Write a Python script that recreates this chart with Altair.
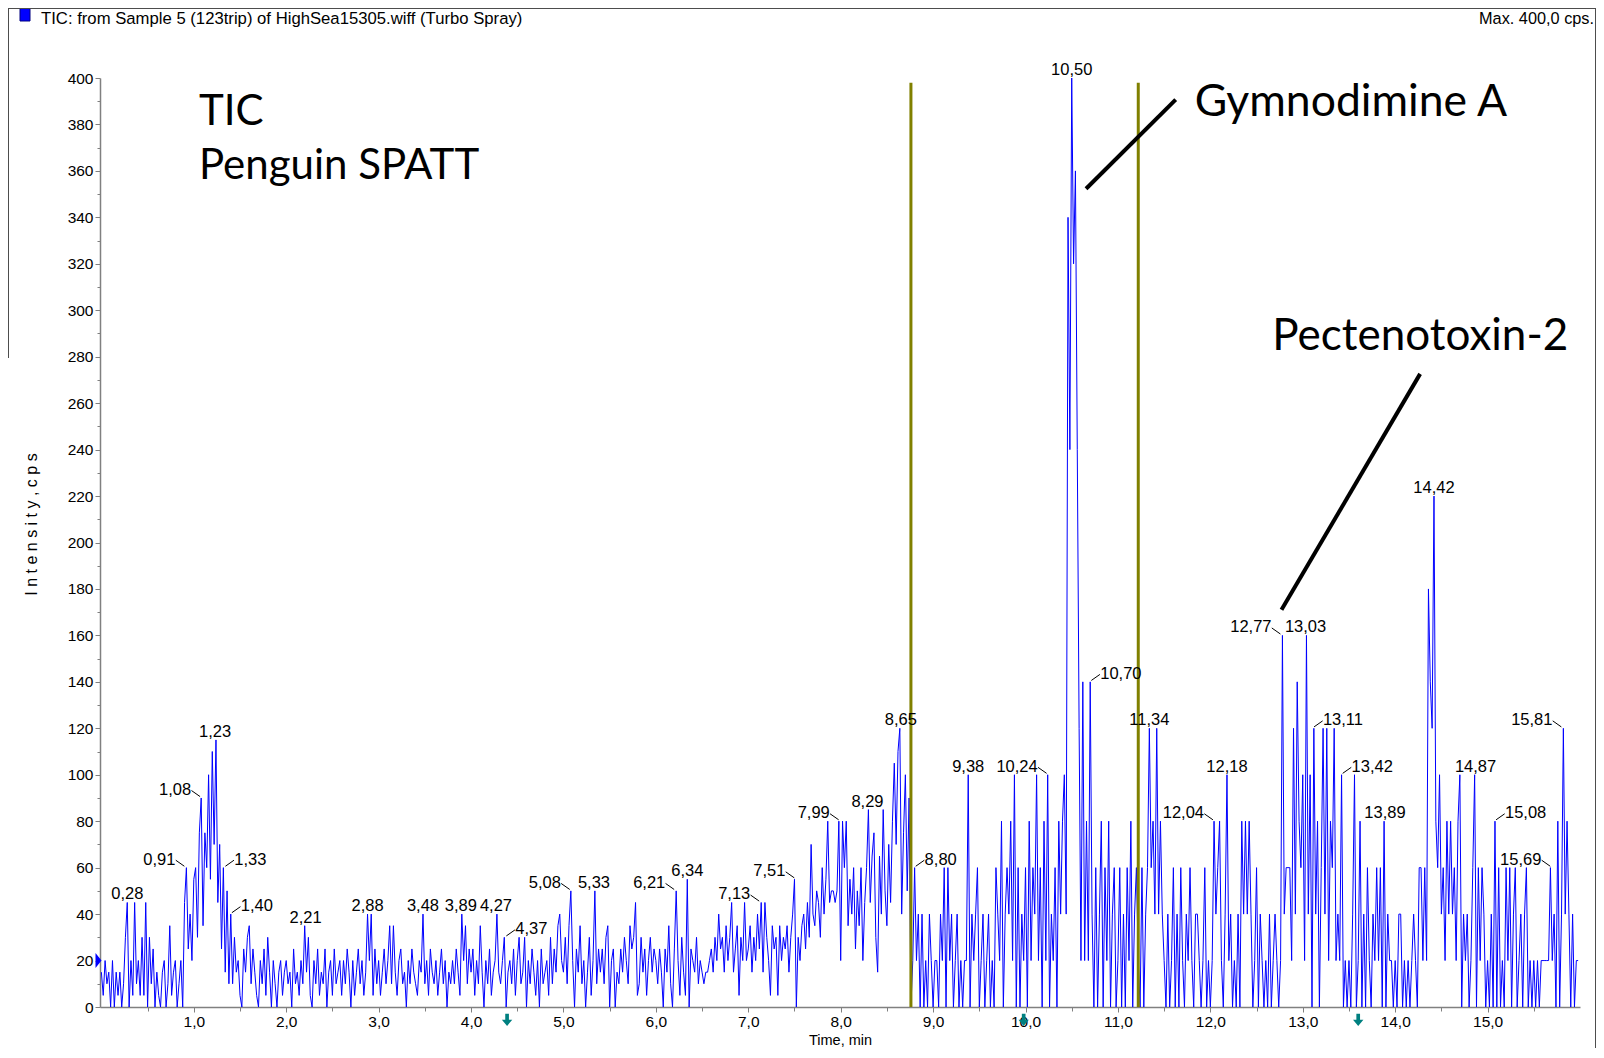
import altair as alt
import pandas as pd

SANS = "Liberation Sans"
BIG = "Lato"

# ---- TIC trace, one list per minute, sampled every 0.02 min ----
STEP = 0.02
min00 = [15, 5, 20, 10, 15, 0, 20, 0, 15, 5, 15, 0, 10, 30, 45, 0, 20, 5, 45, 10,
         20, 5, 30, 5, 45, 0, 30, 10, 25, 0, 15, 5, 0, 15, 20, 0, 10, 35, 5, 15,
         20, 0, 10, 20, 0, 45, 60, 25, 40, 20]
min01 = [55, 60, 30, 75, 90, 35, 75, 60, 100, 55, 110, 70, 115, 45, 70, 25, 60, 15, 50, 10,
         40, 10, 30, 15, 20, 5, 0, 25, 15, 30, 35, 10, 25, 15, 5, 0, 20, 10, 25, 5,
         30, 15, 0, 20, 10, 0, 15, 20, 5, 15]
min02 = [20, 10, 15, 0, 25, 10, 15, 5, 20, 10, 35, 15, 30, 5, 0, 20, 10, 25, 5, 15,
         10, 25, 0, 15, 20, 5, 25, 10, 15, 20, 5, 20, 10, 25, 15, 0, 20, 5, 15, 25,
         10, 20, 5, 15, 40, 20, 40, 5, 25, 10]
min03 = [20, 5, 15, 25, 10, 20, 35, 10, 35, 15, 5, 20, 25, 10, 15, 0, 20, 10, 25, 15,
         10, 5, 20, 15, 40, 10, 20, 5, 25, 15, 10, 20, 5, 15, 25, 10, 20, 0, 15, 10,
         20, 10, 25, 15, 5, 40, 20, 35, 10, 25]
min04 = [15, 25, 5, 20, 10, 35, 15, 0, 20, 10, 25, 5, 15, 20, 40, 15, 10, 20, 30, 0,
         15, 20, 10, 25, 5, 20, 30, 10, 15, 30, 0, 20, 10, 25, 15, 5, 20, 0, 25, 10,
         15, 20, 5, 30, 10, 25, 15, 35, 40, 20]
min05 = [15, 30, 10, 35, 50, 20, 0, 25, 15, 35, 10, 20, 0, 15, 30, 5, 20, 50, 10, 25,
         15, 25, 10, 30, 35, 0, 20, 25, 0, 15, 10, 25, 15, 30, 20, 10, 35, 25, 30, 45,
         5, 10, 30, 15, 25, 5, 20, 30, 15, 25]
min06 = [20, 10, 25, 15, 0, 25, 15, 35, 10, 0, 25, 50, 20, 5, 30, 15, 5, 55, 0, 25,
         20, 15, 30, 10, 20, 15, 10, 15, 15, 20, 25, 15, 30, 20, 40, 25, 30, 15, 35, 20,
         30, 45, 15, 25, 35, 5, 30, 20, 45, 20]
min07 = [25, 35, 15, 30, 20, 40, 25, 45, 15, 45, 30, 20, 5, 35, 25, 30, 5, 35, 20, 30,
         25, 35, 15, 30, 40, 55, 0, 30, 20, 35, 40, 25, 45, 30, 70, 40, 35, 50, 45, 30,
         60, 40, 55, 80, 45, 50, 50, 45, 50, 80]
min08 = [20, 80, 60, 80, 35, 55, 40, 60, 25, 50, 35, 60, 20, 45, 60, 85, 45, 65, 75, 30,
         15, 65, 40, 85, 50, 35, 70, 45, 80, 105, 70, 110, 120, 40, 75, 100, 50, 90, 0, 20,
         60, 20, 40, 0, 40, 0, 20, 0, 40, 20]
min09 = [0, 20, 20, 0, 40, 20, 60, 0, 60, 20, 40, 0, 20, 40, 0, 20, 0, 20, 20, 100,
         0, 40, 20, 40, 60, 0, 20, 40, 0, 20, 40, 0, 20, 0, 60, 40, 20, 80, 0, 40,
         60, 40, 80, 20, 100, 0, 60, 0, 40, 20]
min10 = [60, 0, 80, 20, 60, 40, 100, 20, 60, 0, 80, 20, 100, 0, 40, 20, 60, 0, 80, 40,
         80, 100, 40, 340, 240, 400, 320, 360, 240, 120, 20, 140, 20, 80, 20, 140, 40, 0, 60, 0,
         40, 80, 0, 60, 20, 80, 0, 40, 60, 0]
min11 = [20, 60, 0, 40, 0, 60, 20, 80, 0, 40, 60, 20, 0, 60, 0, 40, 60, 120, 60, 80,
         40, 120, 40, 80, 40, 20, 0, 40, 0, 20, 60, 0, 40, 0, 60, 20, 0, 40, 20, 60,
         20, 0, 40, 40, 20, 0, 20, 60, 0, 20]
min12 = [0, 20, 80, 40, 60, 80, 20, 0, 40, 100, 20, 40, 0, 20, 0, 40, 0, 80, 40, 80,
         40, 80, 40, 0, 20, 60, 0, 40, 20, 0, 20, 0, 40, 0, 20, 40, 20, 0, 20, 160,
         40, 60, 60, 60, 20, 120, 40, 140, 80, 60]
min13 = [100, 20, 160, 40, 100, 0, 120, 40, 80, 0, 60, 120, 40, 120, 20, 80, 60, 120, 20, 40,
         20, 100, 0, 20, 0, 20, 0, 40, 100, 0, 20, 80, 0, 40, 0, 60, 20, 0, 40, 20,
         60, 20, 60, 0, 80, 0, 40, 20, 20, 0]
min14 = [20, 0, 40, 40, 0, 20, 0, 20, 0, 20, 40, 20, 0, 60, 60, 20, 60, 20, 180, 140,
         120, 220, 80, 60, 100, 40, 60, 20, 80, 40, 80, 40, 60, 20, 80, 100, 0, 40, 20, 40,
         0, 20, 60, 100, 0, 60, 20, 60, 40, 0]
min15 = [20, 0, 40, 0, 80, 0, 60, 0, 20, 0, 60, 20, 60, 0, 40, 60, 0, 20, 40, 0,
         40, 60, 0, 20, 0, 20, 0, 20, 0, 20, 20, 20, 20, 20, 60, 20, 40, 0, 80, 0,
         40, 120, 40, 80, 40, 0, 40, 0, 20, 20]

# ---- peak labels ----
label_times = [0.28, 0.91, 1.08, 1.23, 1.33, 1.40, 2.21, 2.88, 3.48, 3.89, 4.27, 4.37,
               5.08, 5.33, 6.21, 6.34, 7.13, 7.51, 7.99, 8.29, 8.65, 8.80, 9.38, 10.24,
               10.50, 10.70, 11.34, 12.04, 12.18, 12.77, 13.03, 13.11, 13.42, 13.89,
               14.42, 14.87, 15.08, 15.69, 15.81]
label_peaks = [45, 60, 90, 115, 60, 40, 35, 40, 40, 40, 40, 30,
               50, 50, 50, 55, 45, 55, 80, 85, 120, 60, 100, 100,
               400, 140, 120, 80, 100, 160, 160, 120, 100, 80,
               220, 100, 80, 60, 120]
label_sides = ["c", "l", "l", "c", "r", "r", "c", "c", "c", "c", "c", "r",
               "l", "c", "l", "c", "l", "l", "l", "c", "c", "r", "c", "l",
               "c", "r", "c", "l", "c", "l", "c", "r", "r", "c",
               "c", "c", "r", "l", "l"]

# ---- annotations ----
marker_times = [8.76, 11.22]
big_texts = ["TIC", "Penguin SPATT", "Gymnodimine A", "Pectenotoxin-2"]
big_sizes = [42, 42, 44.5, 44]
big_t = [1.056, 1.056, 11.83, 12.67]
big_v = [379.9, 356.3, 383.5, 282.7]
pointer_t = [11.625, 14.27]
pointer_v = [390.7, 272.6]
pointer_t2 = [10.655, 12.77]
pointer_v2 = [352.3, 171.0]
arrow_times = [4.39, 9.98, 13.60]
arrow_level = -5.5
start_marker_level = 20
header_left = "TIC: from Sample 5 (123trip) of HighSea15305.wiff (Turbo Spray)"
header_right = "Max. 400,0 cps."

# ---------------------------------------------------------------
minutes = [min00, min01, min02, min03, min04, min05, min06, min07,
           min08, min09, min10, min11, min12, min13, min14, min15]
values = [v for m in minutes for v in m]
times = [round(i * STEP, 2) for i in range(len(values))]
trace = pd.DataFrame({"t": times, "v": values})

labels = pd.DataFrame({"t": label_times, "v": label_peaks, "side": label_sides})
labels["text"] = [f"{t:.2f}".replace(".", ",") for t in label_times]

lead = labels[labels["side"] != "c"].copy()
sgn = lead["side"].map({"l": -1, "r": 1})
lead["x1"] = lead["t"] + sgn * 0.012
lead["y1"] = lead["v"] + 0.6
lead["x2"] = lead["t"] + sgn * 0.105
lead["y2"] = lead["v"] + 3.2

PAD_L, PAD_T, W, H = 92, 70, 1480, 929
PAD_R, PAD_B = 16, 41

xs = alt.Scale(domain=[-0.015, 16.0], nice=False, zero=False)
ys = alt.Scale(domain=[0, 400], nice=False, zero=False)

x_axis = alt.Axis(
    values=[0.5 * k for k in range(1, 32)],
    labelExpr="datum.value % 1 === 0 ? replace(format(datum.value, '.1f'), '.', ',') : ''",
    title="Time, min", titleFont=SANS, titleFontSize=14.5, titleFontWeight="normal",
    titleColor="black", titleY=37.5, titleBaseline="alphabetic",
    labelFont=SANS, labelFontSize=15.5, labelColor="black", labelPadding=2,
    labelOverlap=False, labelFlush=False,
    tickSize={"condition": {"test": "datum.value % 1 === 0", "value": 5}, "value": 4},
    tickColor="#808080", domainColor="#808080", domainWidth=1.5, grid=False,
)
y_axis = alt.Axis(
    values=list(range(0, 410, 10)),
    labelExpr="datum.value % 20 === 0 ? datum.label : ''",
    title="I n t e n s i t y ,  c p s", titleFont=SANS, titleFontSize=16,
    titleFontWeight="normal", titleColor="black", titleAngle=270, titleX=-69, titleY=446,
    titleAlign="center", titleBaseline="middle",
    labelFont=SANS, labelFontSize=15.5, labelColor="black", labelPadding=2,
    labelOverlap=False, labelFlush=False,
    tickSize={"condition": {"test": "datum.value % 20 === 0", "value": 5}, "value": 3},
    tickColor="#808080", domainColor="#808080", domainWidth=1.5, grid=False,
)

X = lambda f: alt.X(f, scale=xs, axis=x_axis)
Y = lambda f: alt.Y(f, scale=ys, axis=y_axis)

line = alt.Chart(trace).mark_line(color="#0000ff", strokeWidth=1).encode(
    x=X("t:Q"), y=Y("v:Q"))

olive_df = pd.DataFrame({"t": marker_times, "v": [0] * len(marker_times),
                         "v2": [398] * len(marker_times)})
olive = alt.Chart(olive_df).mark_rule(color="#808000", strokeWidth=3).encode(
    x=X("t:Q"), y=Y("v:Q"), y2="v2:Q")

ptr_df = pd.DataFrame({"t": pointer_t, "v": pointer_v, "t2": pointer_t2, "v2": pointer_v2})
pointers = alt.Chart(ptr_df).mark_rule(color="black", strokeWidth=4).encode(
    x=X("t:Q"), y=Y("v:Q"), x2="t2:Q", y2="v2:Q")

big_df = pd.DataFrame({"text": big_texts, "t": big_t, "v": big_v, "s": big_sizes})
big = alt.Chart(big_df).mark_text(align="left", baseline="alphabetic", font=BIG,
                                  color="black").encode(
    x=X("t:Q"), y=Y("v:Q"), text="text:N",
    size=alt.Size("s:Q", scale=None, legend=None))

def label_layer(side, align, dx):
    return alt.Chart(labels).transform_filter(alt.datum.side == side).mark_text(
        align=align, baseline="alphabetic", dx=dx, dy=-3, font=SANS, fontSize=16.5,
        color="black").encode(x=X("t:Q"), y=Y("v:Q"), text="text:N")

lab_c = label_layer("c", "center", 0)
lab_l = label_layer("l", "right", -10)
lab_r = label_layer("r", "left", 10)

leaders = alt.Chart(lead).mark_rule(color="black", strokeWidth=1).encode(
    x=X("x1:Q"), y=Y("y1:Q"), x2="x2:Q", y2="y2:Q")

tri = alt.Chart(pd.DataFrame({"v": [start_marker_level]})).mark_point(
    shape="M-0.4,-1L0.4,0L-0.4,1Z", filled=True, color="#0000ff",
    size=225, opacity=1).encode(x=alt.value(-1.5), y=Y("v:Q"))

arrows = alt.Chart(pd.DataFrame({"t": arrow_times, "v": [arrow_level] * len(arrow_times)})
                   ).mark_point(
    shape="M-0.3,-1L0.3,-1L0.3,0L0.85,0L0,1L-0.85,0L-0.3,0Z", filled=True,
    color="#008080", size=150, opacity=1).encode(x=X("t:Q"), y=Y("v:Q"))

# header and outer frame (decoration, pixel offsets from the plot origin)
one = pd.DataFrame({"k": [0]})
hdr_l = alt.Chart(one).mark_text(align="left", baseline="alphabetic", font=SANS,
                                 fontSize=16.7, color="black", text=header_left).encode(
    x=alt.value(-59), y=alt.value(-54))
hdr_r = alt.Chart(one).mark_text(align="right", baseline="alphabetic", font=SANS,
                                 fontSize=16.3, color="black", text=header_right).encode(
    x=alt.value(W + PAD_R - 2), y=alt.value(-54))
hdr_sq = alt.Chart(one).mark_rect(color="#0000ff", stroke="#000080", strokeWidth=1).encode(
    x=alt.value(-80), x2=alt.value(-70), y=alt.value(-PAD_T), y2=alt.value(-PAD_T + 13))

frame_top = alt.Chart(one).mark_rule(color="#4d4d4d", strokeWidth=1).encode(
    x=alt.value(-PAD_L), x2=alt.value(W + PAD_R), y=alt.value(-PAD_T + 0.5),
    y2=alt.value(-PAD_T + 0.5))
frame_right = alt.Chart(one).mark_rule(color="#4d4d4d", strokeWidth=1).encode(
    x=alt.value(W + PAD_R - 0.5), x2=alt.value(W + PAD_R - 0.5), y=alt.value(-PAD_T),
    y2=alt.value(H + PAD_B + 5))
frame_left = alt.Chart(one).mark_rule(color="#4d4d4d", strokeWidth=1).encode(
    x=alt.value(-PAD_L + 0.5), x2=alt.value(-PAD_L + 0.5), y=alt.value(-PAD_T),
    y2=alt.value(280))

chart = alt.layer(
    line, olive, pointers, big, leaders, lab_c, lab_l, lab_r, tri, arrows,
    hdr_l, hdr_r, hdr_sq, frame_top, frame_right, frame_left
).properties(
    width=W, height=H, background="white",
    autosize=alt.AutoSizeParams(type="none"),
    padding={"left": PAD_L, "top": PAD_T, "right": PAD_R, "bottom": PAD_B},
).configure_view(stroke="transparent")

chart.save("out.html", embed_options={"renderer": "svg", "actions": False})
